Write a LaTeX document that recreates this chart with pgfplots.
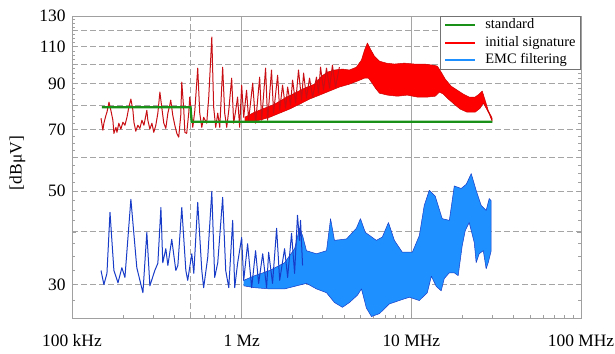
\documentclass[border=0pt]{standalone}
\usepackage{fontspec}
\setmainfont{Liberation Serif}
\usepackage{pgfplots}
\pgfplotsset{compat=1.18}
\definecolor{stdgreen}{RGB}{25,145,25}
\definecolor{sigred}{RGB}{255,0,0}
\definecolor{sigdark}{RGB}{200,15,20}
\definecolor{emcblue}{RGB}{30,144,255}
\definecolor{emcdark}{RGB}{25,60,200}
\definecolor{framec}{RGB}{160,160,160}
\definecolor{gridc}{RGB}{165,165,165}
\begin{document}
\begin{tikzpicture}
\path[use as bounding box] (0,0) rectangle (615bp,354bp);
\begin{axis}[
  scale only axis, width=509bp, height=302bp,
  at={(72bp,36bp)}, anchor=south west,
  xmin=5, xmax=8, ymode=log, ymin=25, ymax=130,
  xtick={5,6,7,8}, xticklabels={100 kHz,1 Mz,10 MHz,100 MHz},
  minor xtick={5.301,5.477,5.602,5.699,5.778,5.845,5.903,5.954,6.301,6.477,6.602,6.699,6.778,6.845,6.903,6.954,7.301,7.477,7.602,7.699,7.778,7.845,7.903,7.954},
  xmajorgrids, x grid style={gridc, solid, line width=0.8bp},
  extra x ticks={5.699}, extra x tick labels={},
  extra x tick style={grid=major, x grid style={gridc, dash pattern=on 6bp off 3bp, line width=0.8bp}},
  ytick={30,40,50,60,70,80,90,100,110,120,130},
  yticklabels={30,,50,,70,,90,,110,,130},
  minor ytick={25,27.5,...,130},
  ymajorgrids, y grid style={gridc, dash pattern=on 6bp off 3bp, line width=0.8bp},
  xtick pos=bottom, ytick pos=both,
  tick align=inside, major tick length=4bp, minor tick length=3bp,
  tick style={framec, line width=0.6bp},
  axis line style={framec, line width=0.9bp},
  ticklabel style={font=\fontsize{17.5}{20}\selectfont, text=black},
  xticklabel style={anchor=base, yshift=-29bp},
  yticklabel style={anchor=east, xshift=-3bp},
  /pgf/number format/assume math mode=true,
  ylabel={[dBμV]},
  ylabel style={font=\fontsize{17.5}{20}\selectfont, at={(axis description cs:-0.107,0.513)}, anchor=center},
  legend image code/.code={\draw[#1] (0bp,0bp) -- (30bp,0bp);},
  legend style={at={(1,1)}, anchor=north east, draw=gray!90!black, line width=0.8bp, fill=white,
    font=\fontsize{14.5}{16}\selectfont, inner xsep=4bp, inner ysep=1bp,
    nodes={inner sep=1bp, text height=10.5bp, text depth=3.5bp}, row sep=1.5bp,
    /tikz/every odd column/.append style={column sep=8bp}},
  legend cell align=left,
]
% EMC filtering: dense band
\addplot[fill=emcblue, draw=emcdark, line width=0.5bp, line join=round, forget plot] coordinates {
(6.012,30.7) (6.076,31.5) (6.165,32.4) (6.253,33.8) (6.312,36.5) (6.341,40.8) (6.359,39.2) (6.382,36.1)
(6.441,35.5) (6.500,36.1) (6.524,43.0) (6.547,38.2) (6.618,38.5) (6.676,40.8) (6.700,43.0) (6.729,39.9)
(6.794,38.2) (6.829,38.9) (6.865,42.1) (6.900,38.2) (6.947,35.8) (7.006,35.8) (7.047,39.2) (7.076,46.2)
(7.106,50.2) (7.141,48.6) (7.182,43.0) (7.224,42.6) (7.253,51.4) (7.294,50.7) (7.324,51.9) (7.353,55.0)
(7.382,50.2) (7.412,46.2) (7.441,45.0) (7.459,48.0) (7.471,47.4)
(7.471,36.1) (7.453,33.8) (7.441,32.7) (7.424,36.1) (7.400,35.5) (7.382,33.8) (7.371,37.7) (7.341,42.1)
(7.318,40.3) (7.300,37.1) (7.276,31.5) (7.253,32.0) (7.224,32.0) (7.194,31.0) (7.176,29.0) (7.147,29.7)
(7.118,31.4) (7.094,28.7) (7.047,27.5) (6.988,28.0) (6.929,27.5) (6.871,27.0) (6.812,25.6) (6.765,25.2)
(6.735,26.4) (6.706,29.3) (6.682,28.3) (6.635,27.2) (6.594,26.5) (6.547,27.2) (6.500,28.7) (6.441,29.3)
(6.382,30.2) (6.324,29.8) (6.253,29.3) (6.165,29.3) (6.076,29.5) (6.012,29.8)
};
% EMC filtering: low-frequency trace
\addplot[emcdark, line width=1bp, line join=round, forget plot] coordinates {
(5.171,32.4) (5.188,30.0) (5.206,31.9) (5.224,44.5) (5.247,32.4) (5.271,30.3) (5.294,32.9) (5.312,31.2)
(5.347,47.8) (5.382,32.9) (5.418,28.7) (5.441,39.9) (5.459,29.8) (5.488,32.4) (5.506,33.7) (5.524,45.7)
(5.535,33.8) (5.553,36.5) (5.565,33.3) (5.588,38.4) (5.612,32.4) (5.624,33.3) (5.647,45.7) (5.671,32.4)
(5.682,30.7) (5.706,35.5) (5.718,31.9) (5.741,47.0) (5.765,32.4) (5.776,29.5) (5.800,34.8) (5.824,49.9)
(5.841,31.2) (5.859,33.8) (5.888,48.3) (5.906,32.4) (5.924,29.5) (5.947,42.6) (5.959,29.5) (5.976,33.7)
(6.000,38.8) (6.012,30.7) (6.035,37.5) (6.059,29.5) (6.082,36.1) (6.100,30.2) (6.124,35.5) (6.147,29.5)
(6.159,35.8) (6.182,30.2) (6.206,40.8) (6.224,30.7) (6.253,36.5) (6.271,31.2) (6.294,39.7) (6.312,31.9)
(6.329,43.8) (6.341,38.2) (6.347,42.6) (6.359,33.3)
};
% initial signature: dense band
\addplot[fill=sigred, draw=sigred!80!black, line width=0.5bp, line join=round, forget plot] coordinates {
(6.018,74.8) (6.076,76.9) (6.135,78.6) (6.194,80.3) (6.253,83.0) (6.312,85.3) (6.371,87.7) (6.429,89.6)
(6.471,93.6) (6.506,95.7) (6.547,96.8) (6.594,97.3) (6.635,96.8) (6.676,98.3) (6.706,102.2) (6.724,107.9)
(6.741,112.2) (6.759,108.5) (6.782,104.5) (6.812,101.6) (6.853,100.5) (6.900,100.0) (6.959,100.5) (7.018,100.0)
(7.076,100.0) (7.129,99.4) (7.153,98.9) (7.176,95.7) (7.200,92.1) (7.235,88.6) (7.271,86.7) (7.306,84.9)
(7.341,83.5) (7.376,83.5) (7.400,84.9) (7.418,86.3) (7.435,82.1) (7.453,77.7) (7.471,75.2) (7.476,74.4)
(7.476,73.2) (7.459,76.1) (7.441,78.6) (7.424,80.8) (7.406,78.6) (7.376,76.9) (7.329,76.9) (7.288,78.2)
(7.253,80.3) (7.218,82.6) (7.188,84.9) (7.165,85.8) (7.141,83.9) (7.094,83.5) (7.035,83.5) (6.976,84.4)
(6.918,83.9) (6.859,84.4) (6.812,85.3) (6.788,87.7) (6.765,90.6) (6.747,92.6) (6.724,92.6) (6.682,91.1)
(6.635,89.6) (6.576,88.2) (6.518,86.3) (6.459,84.4) (6.400,82.6) (6.341,80.3) (6.282,78.2) (6.224,76.5)
(6.165,74.8) (6.106,73.6) (6.047,72.8) (6.018,72.8)
};
% initial signature: low-frequency trace
\addplot[sigdark, line width=1bp, line join=round, forget plot] coordinates {
(5.171,74.4) (5.182,69.7) (5.188,72.4) (5.200,75.6) (5.206,76.9) (5.218,81.2) (5.229,77.7) (5.241,73.6)
(5.247,68.5) (5.259,70.8) (5.265,68.9) (5.276,72.4) (5.288,70.1) (5.300,72.8) (5.312,71.6) (5.324,74.8)
(5.335,79.0) (5.347,82.6) (5.359,77.7) (5.365,72.8) (5.376,69.3) (5.388,71.6) (5.400,70.4) (5.412,73.6)
(5.424,71.6) (5.441,77.7) (5.447,73.6) (5.459,70.1) (5.471,72.4) (5.482,68.9) (5.494,71.6) (5.506,76.5)
(5.518,85.8) (5.529,79.0) (5.541,72.4) (5.553,70.4) (5.565,76.5) (5.576,79.9) (5.582,82.1) (5.594,75.6)
(5.606,71.6) (5.618,68.5) (5.629,67.1) (5.641,75.6) (5.647,90.6) (5.659,77.7) (5.665,68.9) (5.676,68.5)
(5.688,76.5) (5.694,83.5) (5.706,74.8) (5.712,70.8) (5.724,77.7) (5.741,97.8) (5.753,76.5) (5.765,70.8)
(5.776,74.8) (5.794,72.4) (5.806,83.5) (5.824,115.9) (5.835,79.0) (5.847,70.8) (5.859,76.5) (5.871,70.8)
(5.888,98.3) (5.900,76.5) (5.912,70.8) (5.924,77.7) (5.941,92.6) (5.953,72.4) (5.965,77.7) (5.976,83.5)
(5.988,70.8) (6.000,89.1) (6.012,74.8) (6.029,86.7) (6.041,73.6) (6.065,90.1) (6.082,72.4) (6.106,93.1)
(6.118,73.6) (6.141,97.8) (6.153,73.6) (6.176,96.8) (6.188,76.5) (6.212,94.1) (6.224,77.7) (6.241,89.1)
(6.259,78.6) (6.271,88.2) (6.288,79.9) (6.300,91.6) (6.318,80.8) (6.335,96.8) (6.353,82.1) (6.365,95.2)
(6.382,83.0) (6.400,92.6) (6.418,83.5) (6.441,93.1) (6.453,85.3) (6.465,98.3) (6.482,86.7) (6.500,97.8)
(6.518,87.7) (6.535,99.4) (6.553,88.2) (6.576,98.3)
};
% standard limit
\addplot[stdgreen, line width=2.2bp, forget plot] coordinates {
(5.176,79) (5.699,79) (5.705,73) (7.477,73)
};
\addlegendimage{stdgreen, line width=2bp}\addlegendentry{standard}
\addlegendimage{sigred, line width=2bp}\addlegendentry{initial signature}
\addlegendimage{emcblue, line width=2bp}\addlegendentry{EMC filtering}
\end{axis}
\end{tikzpicture}
\end{document}
